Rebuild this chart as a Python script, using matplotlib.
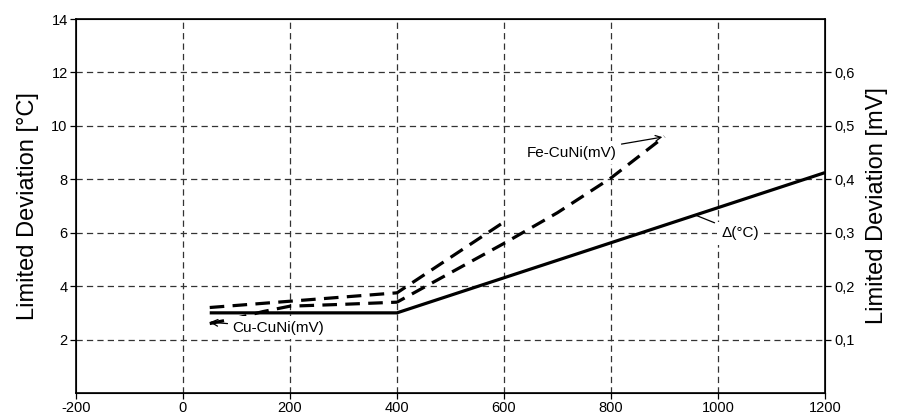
import matplotlib
matplotlib.use("Agg")
import matplotlib.pyplot as plt

plt.rcParams['font.family'] = ['Liberation Sans', 'DejaVu Sans']
plt.rcParams['lines.scale_dashes'] = False
plt.rcParams['axes.unicode_minus'] = False

# Data (temperature °C vs limited deviation °C)
delta_x = [50, 400, 1200]
delta_y = [3.0, 3.0, 8.25]

fe_x = [50, 400, 600]
fe_y = [3.2, 3.75, 6.4]

cu_x = [50, 100, 150, 200, 300, 400, 500, 600, 700, 800, 900]
cu_y = [2.6, 2.8, 3.05, 3.25, 3.32, 3.4, 4.5, 5.6, 6.75, 8.05, 9.6]

x_ticks = [-200, 0, 200, 400, 600, 800, 1000, 1200]
y_ticks = [2, 4, 6, 8, 10, 12, 14]
mv_ticks = [0.1, 0.2, 0.3, 0.4, 0.5, 0.6]
mv_labels = ['0,1', '0,2', '0,3', '0,4', '0,5', '0,6']

fig = plt.figure(figsize=(8.98, 4.16), dpi=100)
ax = fig.add_axes([0.0846, 0.0553, 0.9187 - 0.0846, 0.9543 - 0.0553])
ax.set_xlim(-200, 1200)
ax.set_ylim(0, 14)

# grid
grid_kw = dict(color='#333333', lw=0.9, dashes=(4.5, 3), zorder=1)
for gx in [0, 200, 400, 600, 800, 1000]:
    ax.axvline(gx, **grid_kw)
for gy in [2, 4, 6, 8, 10, 12]:
    ax.axhline(gy, **grid_kw)

ax.plot(delta_x, delta_y, color='black', lw=2.3, solid_capstyle='butt', zorder=3)
ax.plot(fe_x, fe_y, color='black', lw=2.3, dashes=(10.5, 6), zorder=3)
ax.plot(cu_x, cu_y, color='black', lw=2.3, dashes=(10.5, 6), zorder=3)

ax.set_xticks(x_ticks)
ax.set_yticks(y_ticks)
ax.set_yticklabels([str(v) for v in y_ticks])
ax.tick_params(direction='out', length=4, width=0.9, labelsize=10.5, pad=2)
for s in ax.spines.values():
    s.set_linewidth(1.2)

ax.set_ylabel('Limited Deviation [°C]', fontsize=17, labelpad=9)

ax2 = ax.twinx()
ax2.set_ylim(0, 0.7)
ax2.set_yticks(mv_ticks)
ax2.set_yticklabels(mv_labels)
ax2.tick_params(direction='out', length=4, width=0.9, labelsize=10.5, pad=3)
ax2.set_ylabel('Limited Deviation [mV]', fontsize=17, labelpad=8)

bbox_kw = dict(boxstyle='square,pad=0.3', fc='white', ec='none')
ax.annotate('Fe-CuNi(mV)', xy=(896, 9.58), xytext=(643, 9.0),
            ha='left', va='center', fontsize=11, bbox=bbox_kw, zorder=4,
            arrowprops=dict(arrowstyle='->', lw=0.9, color='black',
                            shrinkA=0, shrinkB=0, mutation_scale=10))
ax.annotate('Cu-CuNi(mV)', xy=(50, 2.65), xytext=(92, 2.45),
            ha='left', va='center', fontsize=11, bbox=bbox_kw, zorder=4,
            arrowprops=dict(arrowstyle='->', lw=0.9, color='black',
                            shrinkA=0, shrinkB=0, mutation_scale=12))
ax.annotate('Δ(°C)', xy=(959, 6.65), xytext=(1007, 5.98),
            ha='left', va='center', fontsize=11, bbox=bbox_kw, zorder=4,
            arrowprops=dict(arrowstyle='-', lw=0.9, color='black',
                            shrinkA=2, shrinkB=0))

fig.savefig('out.png', dpi=100)
